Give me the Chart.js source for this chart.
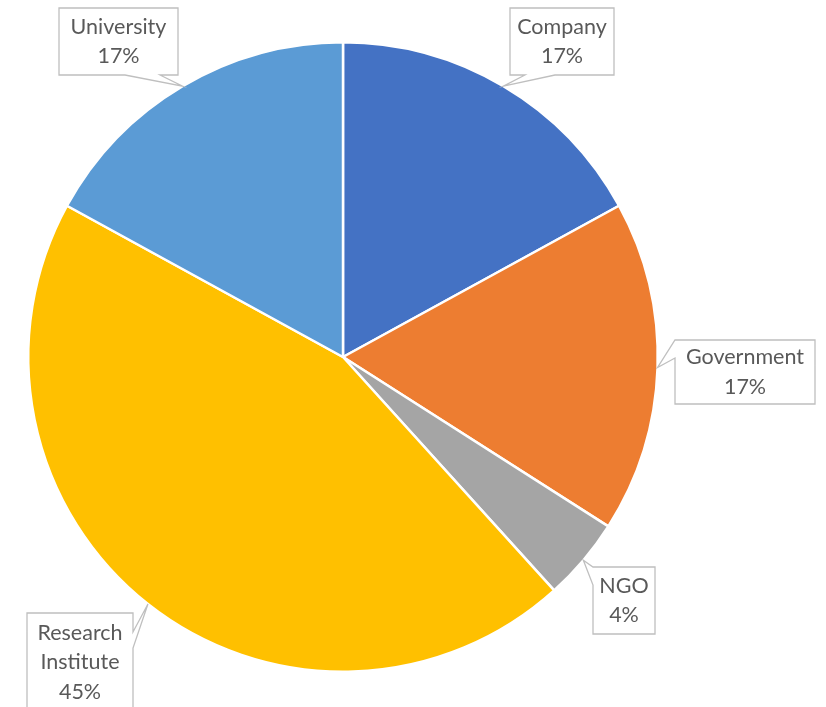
<!DOCTYPE html>
<html>
<head>
<meta charset="utf-8">
<script src="https://cdn.jsdelivr.net/npm/chart.js@4/dist/chart.umd.min.js"></script>
<style>
html,body{margin:0;padding:0;background:#fff;}
canvas{display:block;}
</style>
</head>
<body>
<canvas id="c" width="826" height="707"></canvas>
<script>
const categories = ["Company", "Government", "NGO", "Research Institute", "University"];
const labelLines = [["Company"], ["Government"], ["NGO"], ["Research", "Institute"], ["University"]];
const values = [8, 8, 2, 21, 8];
const colors = ["#4472C4", "#ED7D31", "#A5A5A5", "#FFC000", "#5B9BD5"];

// callout box layout (positions only)
const boxes = [
  {x: 510, y: 8,   w: 104, h: 67, side: "bottom", b1: 525, b2: 555},
  {x: 675, y: 340, w: 140, h: 64, side: "left",   b1: 340, b2: 358},
  {x: 593, y: 567, w: 62,  h: 67, side: "left",   b1: 567, b2: 585},
  {x: 27,  y: 613, w: 106, h: 100, side: "right", b1: 632, b2: 648},
  {x: 59,  y: 8,   w: 119, h: 67, side: "bottom", b1: 125, b2: 160}
];

const calloutPlugin = {
  id: "callouts",
  afterDraw(chart) {
    const ctx = chart.ctx;
    const meta = chart.getDatasetMeta(0);
    const data = chart.data.datasets[0].data;
    const total = data.reduce((a, b) => a + b, 0);
    meta.data.forEach((arc, i) => {
      const p = arc.getProps(["x", "y", "startAngle", "endAngle", "outerRadius"], true);
      const mid = (p.startAngle + p.endAngle) / 2;
      const tx = p.x + Math.cos(mid) * p.outerRadius;
      const ty = p.y + Math.sin(mid) * p.outerRadius;
      const b = boxes[i];
      const L = b.x, T = b.y, R = b.x + b.w, B = b.y + b.h;
      ctx.save();
      ctx.beginPath();
      ctx.moveTo(L, T);
      ctx.lineTo(R, T);
      if (b.side === "right") {
        ctx.lineTo(R, b.b1); ctx.lineTo(tx, ty); ctx.lineTo(R, b.b2);
      }
      ctx.lineTo(R, B);
      if (b.side === "bottom") {
        ctx.lineTo(b.b2, B); ctx.lineTo(tx, ty); ctx.lineTo(b.b1, B);
      }
      ctx.lineTo(L, B);
      if (b.side === "left") {
        ctx.lineTo(L, b.b2); ctx.lineTo(tx, ty); ctx.lineTo(L, b.b1);
      }
      ctx.closePath();
      ctx.fillStyle = "#ffffff";
      ctx.fill();
      ctx.lineWidth = 1.3;
      ctx.strokeStyle = "#BFBFBF";
      ctx.stroke();
      const lines = labelLines[i].concat([Math.round(data[i] / total * 100) + "%"]);
      ctx.fillStyle = "#595959";
      ctx.font = "21.5px Lato, 'Open Sans', sans-serif";
      ctx.textAlign = "center";
      ctx.textBaseline = "middle";
      const lh = 29.5;
      const cx = (L + R) / 2;
      const startY = b.side === "right" ? T + 20 : (T + B) / 2 - (lines.length - 1) * lh / 2;
      lines.forEach((ln, k) => ctx.fillText(ln, cx, startY + k * lh));
      ctx.restore();
    });
  }
};

new Chart(document.getElementById("c"), {
  type: "pie",
  data: {
    labels: categories,
    datasets: [{
      data: values,
      backgroundColor: colors,
      borderColor: "#ffffff",
      borderWidth: 2.5
    }]
  },
  options: {
    responsive: false,
    animation: false,
    layout: {padding: {left: 27, right: 167, top: 41, bottom: 34}},
    plugins: {legend: {display: false}, tooltip: {enabled: false}}
  },
  plugins: [calloutPlugin]
});
</script>
</body>
</html>
